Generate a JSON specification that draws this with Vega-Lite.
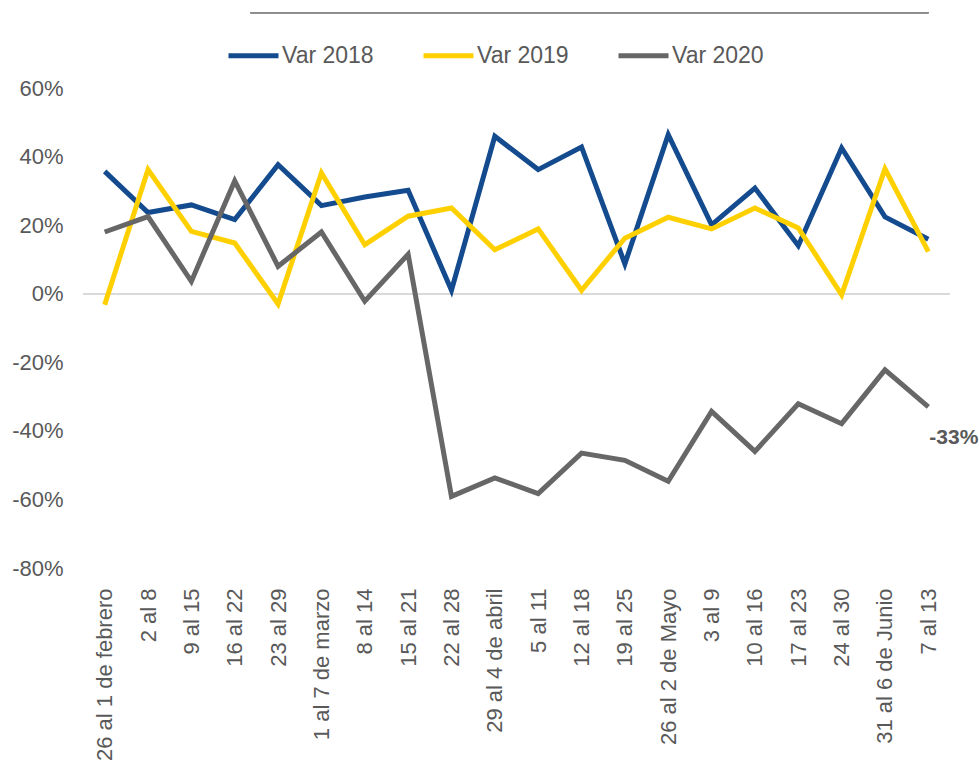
{
  "$schema": "https://vega.github.io/schema/vega-lite/v6.json",
  "width": 867,
  "height": 480,
  "autosize": {"type": "none"},
  "padding": {"left": 83, "top": 88, "right": 29, "bottom": 192},
  "background": "white",
  "config": {
    "view": {"stroke": null},
    "font": "Liberation Sans",
    "axis": {"labelFont": "Liberation Sans", "labelColor": "#595959"}
  },
  "data": {
    "values": [
      {"week": "26 al 1 de febrero", "serie": "Var 2018", "value": 0.357},
      {"week": "2 al 8", "serie": "Var 2018", "value": 0.237},
      {"week": "9 al 15", "serie": "Var 2018", "value": 0.259},
      {"week": "16 al 22", "serie": "Var 2018", "value": 0.216},
      {"week": "23 al 29", "serie": "Var 2018", "value": 0.376},
      {"week": "1 al 7 de marzo", "serie": "Var 2018", "value": 0.257},
      {"week": "8 al 14", "serie": "Var 2018", "value": 0.282},
      {"week": "15 al 21", "serie": "Var 2018", "value": 0.302},
      {"week": "22 al 28", "serie": "Var 2018", "value": 0.01},
      {"week": "29 al 4 de abril", "serie": "Var 2018", "value": 0.459},
      {"week": "5 al 11", "serie": "Var 2018", "value": 0.362},
      {"week": "12 al 18", "serie": "Var 2018", "value": 0.428},
      {"week": "19 al 25", "serie": "Var 2018", "value": 0.087},
      {"week": "26 al  2 de Mayo", "serie": "Var 2018", "value": 0.464},
      {"week": "3 al 9", "serie": "Var 2018", "value": 0.201},
      {"week": "10 al 16", "serie": "Var 2018", "value": 0.308},
      {"week": "17 al 23", "serie": "Var 2018", "value": 0.14},
      {"week": "24 al 30", "serie": "Var 2018", "value": 0.425},
      {"week": "31 al 6 de Junio", "serie": "Var 2018", "value": 0.224},
      {"week": "7 al 13", "serie": "Var 2018", "value": 0.159},
      {"week": "26 al 1 de febrero", "serie": "Var 2019", "value": -0.032},
      {"week": "2 al 8", "serie": "Var 2019", "value": 0.362},
      {"week": "9 al 15", "serie": "Var 2019", "value": 0.182},
      {"week": "16 al 22", "serie": "Var 2019", "value": 0.148},
      {"week": "23 al 29", "serie": "Var 2019", "value": -0.03},
      {"week": "1 al 7 de marzo", "serie": "Var 2019", "value": 0.352},
      {"week": "8 al 14", "serie": "Var 2019", "value": 0.143},
      {"week": "15 al 21", "serie": "Var 2019", "value": 0.226},
      {"week": "22 al 28", "serie": "Var 2019", "value": 0.25},
      {"week": "29 al 4 de abril", "serie": "Var 2019", "value": 0.128},
      {"week": "5 al 11", "serie": "Var 2019", "value": 0.189},
      {"week": "12 al 18", "serie": "Var 2019", "value": 0.01},
      {"week": "19 al 25", "serie": "Var 2019", "value": 0.162},
      {"week": "26 al  2 de Mayo", "serie": "Var 2019", "value": 0.223},
      {"week": "3 al 9", "serie": "Var 2019", "value": 0.189},
      {"week": "10 al 16", "serie": "Var 2019", "value": 0.25},
      {"week": "17 al 23", "serie": "Var 2019", "value": 0.192},
      {"week": "24 al 30", "serie": "Var 2019", "value": -0.003},
      {"week": "31 al 6 de Junio", "serie": "Var 2019", "value": 0.364},
      {"week": "7 al 13", "serie": "Var 2019", "value": 0.123},
      {"week": "26 al 1 de febrero", "serie": "Var 2020", "value": 0.18},
      {"week": "2 al 8", "serie": "Var 2020", "value": 0.225},
      {"week": "9 al 15", "serie": "Var 2020", "value": 0.036},
      {"week": "16 al 22", "serie": "Var 2020", "value": 0.329},
      {"week": "23 al 29", "serie": "Var 2020", "value": 0.08},
      {"week": "1 al 7 de marzo", "serie": "Var 2020", "value": 0.18},
      {"week": "8 al 14", "serie": "Var 2020", "value": -0.022},
      {"week": "15 al 21", "serie": "Var 2020", "value": 0.115},
      {"week": "22 al 28", "serie": "Var 2020", "value": -0.591},
      {"week": "29 al 4 de abril", "serie": "Var 2020", "value": -0.537},
      {"week": "5 al 11", "serie": "Var 2020", "value": -0.583},
      {"week": "12 al 18", "serie": "Var 2020", "value": -0.465},
      {"week": "19 al 25", "serie": "Var 2020", "value": -0.486},
      {"week": "26 al  2 de Mayo", "serie": "Var 2020", "value": -0.547},
      {"week": "3 al 9", "serie": "Var 2020", "value": -0.343},
      {"week": "10 al 16", "serie": "Var 2020", "value": -0.46},
      {"week": "17 al 23", "serie": "Var 2020", "value": -0.321},
      {"week": "24 al 30", "serie": "Var 2020", "value": -0.379},
      {"week": "31 al 6 de Junio", "serie": "Var 2020", "value": -0.222},
      {"week": "7 al 13", "serie": "Var 2020", "value": -0.33}
    ]
  },
  "encoding": {
    "x": {
      "field": "week",
      "type": "ordinal",
      "sort": ["26 al 1 de febrero", "2 al 8", "9 al 15", "16 al 22", "23 al 29", "1 al 7 de marzo", "8 al 14", "15 al 21", "22 al 28", "29 al 4 de abril", "5 al 11", "12 al 18", "19 al 25", "26 al  2 de Mayo", "3 al 9", "10 al 16", "17 al 23", "24 al 30", "31 al 6 de Junio", "7 al 13"],
      "scale": {"type": "point", "padding": 0.5},
      "axis": {
        "title": null,
        "labelAngle": -90,
        "labelFontSize": 22,
        "labelPadding": 20,
        "ticks": false,
        "tickSize": 0,
        "domain": false,
        "grid": false,
        "labelLimit": 400,
        "labelOverlap": false
      }
    },
    "y": {
      "field": "value",
      "type": "quantitative",
      "scale": {"domain": [-0.8, 0.6], "nice": false, "zero": false},
      "axis": {
        "title": null,
        "values": [-0.8, -0.6, -0.4, -0.2, 0, 0.2, 0.4, 0.6],
        "format": ".0%",
        "labelExpr": "replace(datum.label, '\u2212', '-')",
        "labelFontSize": 22,
        "labelPadding": 20,
        "ticks": false,
        "tickSize": 0,
        "domain": false,
        "grid": false
      }
    }
  },
  "layer": [
    {
      "mark": {"type": "rule", "color": "#d9d9d9", "strokeWidth": 1.5},
      "encoding": {"x": null, "y": {"datum": 0}}
    },
    {
      "mark": {"type": "rule", "color": "#8c8c8c", "strokeWidth": 1, "xOffset": 16},
      "encoding": {
        "x": {"datum": "16 al 22"},
        "x2": {"datum": "7 al 13"},
        "y": {"datum": 0.82}
      }
    },
    {
      "mark": {"type": "line", "strokeWidth": 5, "strokeJoin": "miter", "strokeCap": "butt"},
      "encoding": {
        "color": {
          "field": "serie",
          "type": "nominal",
          "scale": {"domain": ["Var 2018", "Var 2019", "Var 2020"], "range": ["#134B8E", "#FFD000", "#676767"]},
          "legend": {
            "title": null,
            "orient": "none",
            "direction": "horizontal",
            "legendX": 143,
            "legendY": -60,
            "symbolType": "stroke",
            "symbolSize": 2500,
            "symbolStrokeWidth": 5,
            "labelFontSize": 23,
            "labelColor": "#595959",
            "labelFont": "Liberation Sans",
            "labelOffset": 1,
            "columnPadding": 39,
            "padding": 0
          }
        }
      }
    },
    {
      "transform": [
        {"filter": "datum.serie == 'Var 2020' && datum.week == '7 al 13'"},
        {"calculate": "replace(format(datum.value, '.0%'), '\u2212', '-')", "as": "lbl"}
      ],
      "mark": {"type": "text", "align": "left", "baseline": "middle", "dx": 1, "dy": 31, "fontWeight": "bold", "fontSize": 21, "color": "#595959", "font": "Liberation Sans"},
      "encoding": {"text": {"field": "lbl"}}
    }
  ]
}
